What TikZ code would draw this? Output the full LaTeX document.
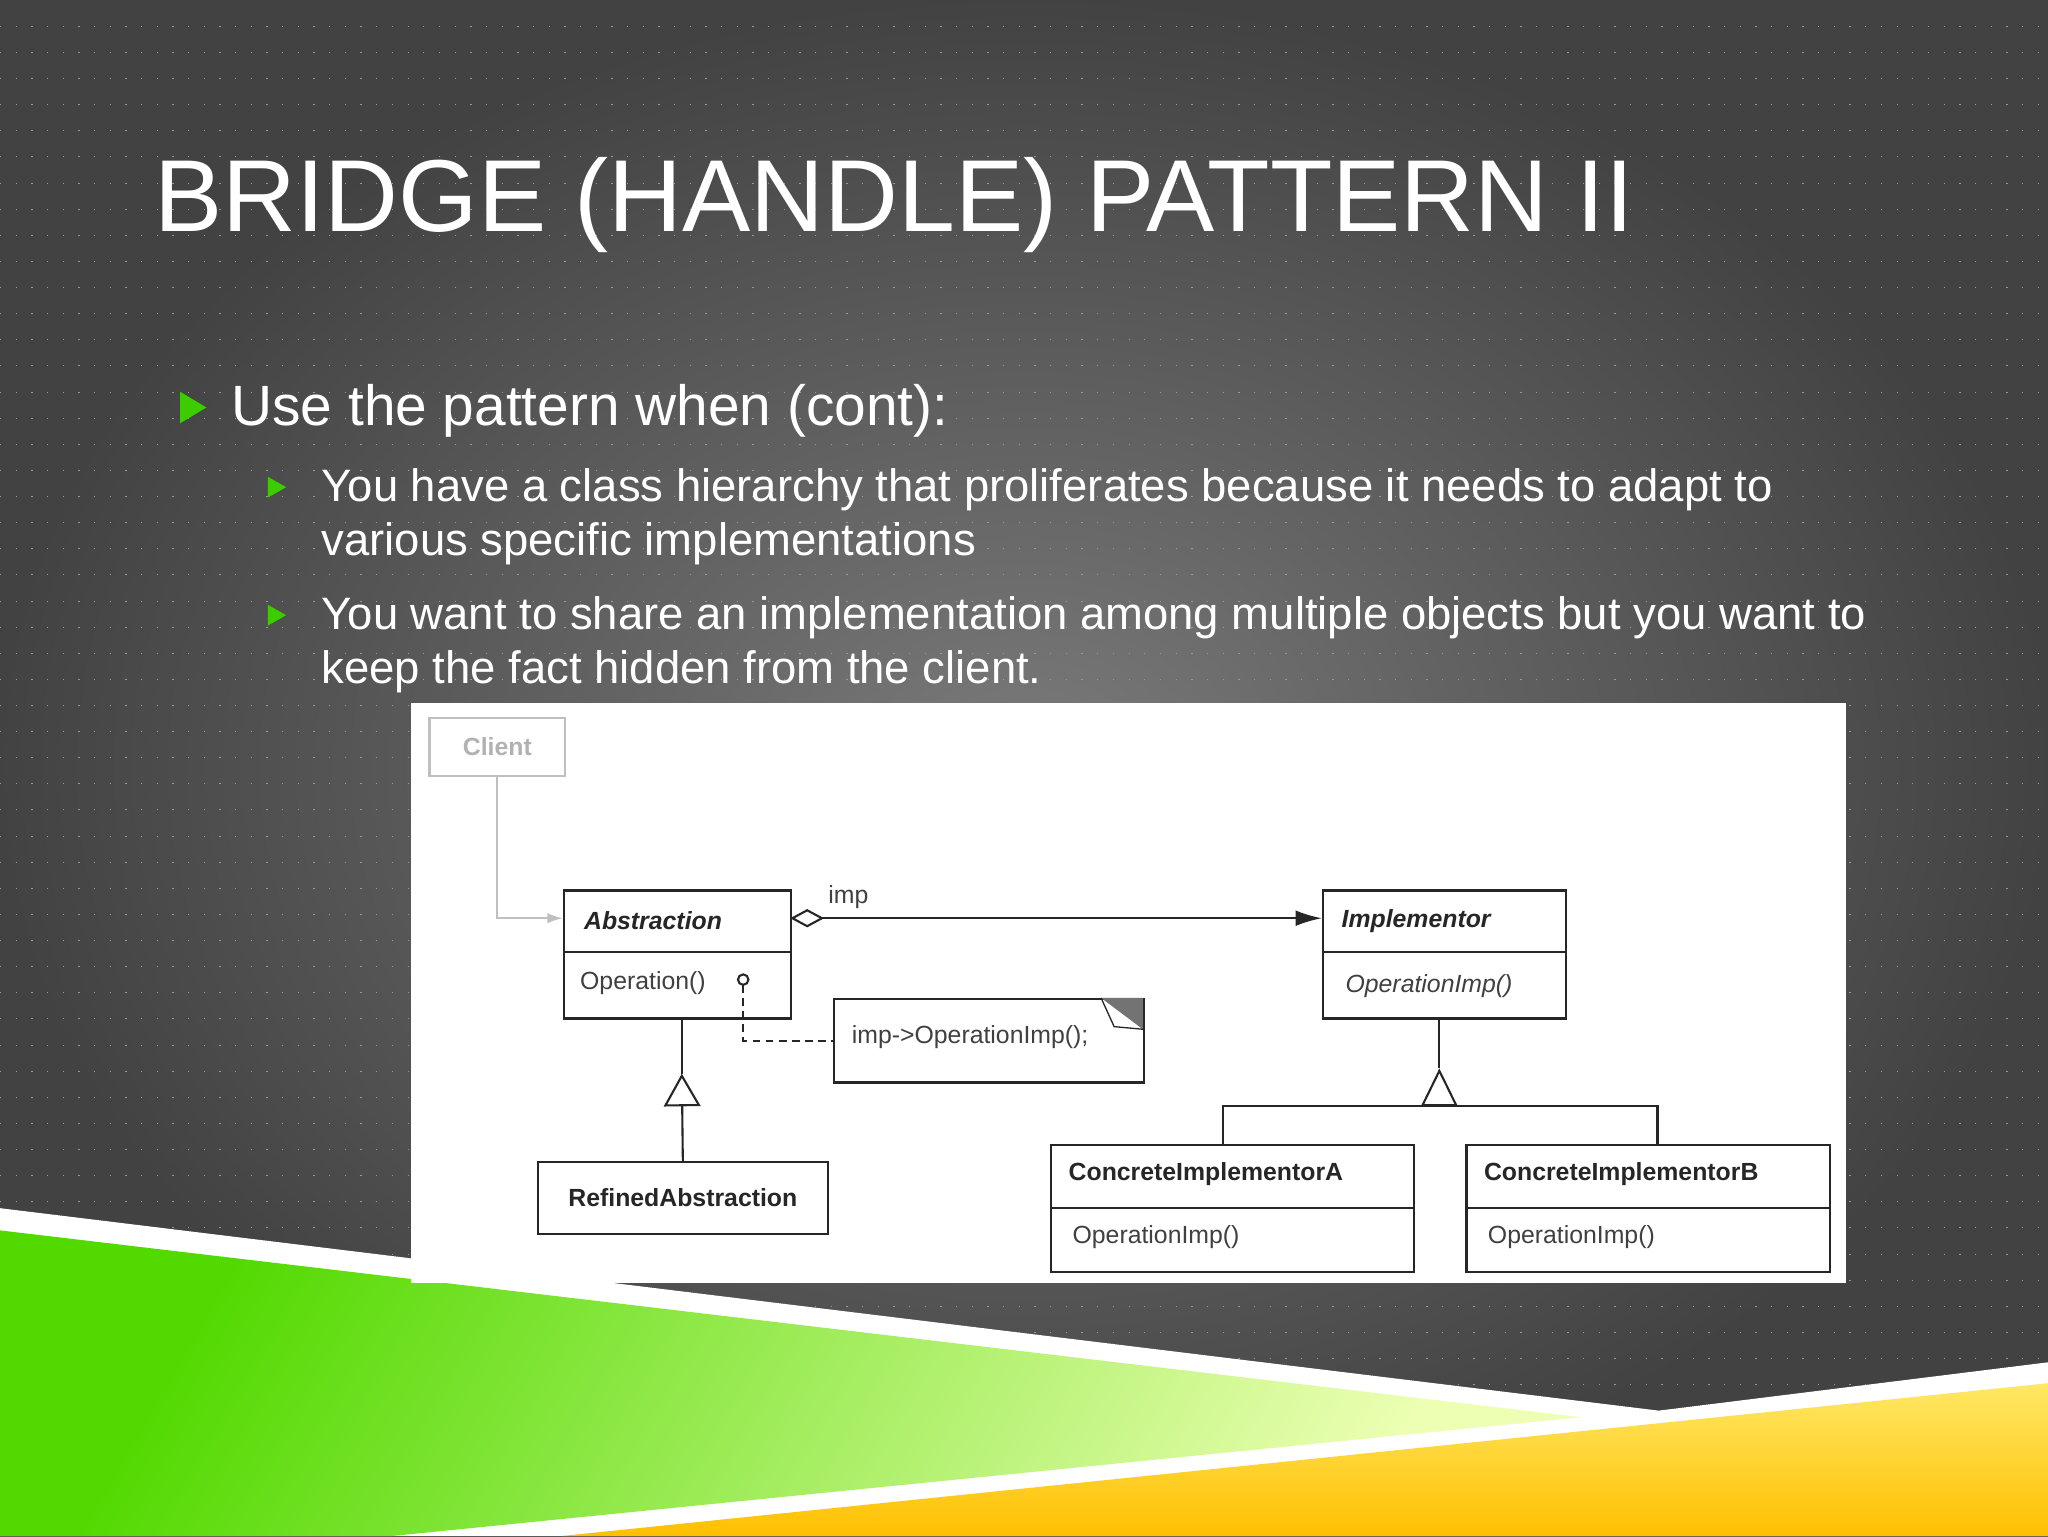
\documentclass[tikz,border=0pt]{standalone}
\usepackage{fontspec}
\setmainfont{Liberation Sans}
\usetikzlibrary{arrows.meta,shapes.geometric}
\begin{document}
\begin{tikzpicture}[x=1pt,y=-1pt,
  cls/.style={draw=black!85,line width=1.6pt,fill=white,inner sep=0pt,anchor=north west},
  ctext/.style={font=\fontsize{19}{22}\selectfont\bfseries,text=black!85,inner sep=0pt},
  mtext/.style={font=\fontsize{19}{22}\selectfont,text=black!75,inner sep=0pt},
  ln/.style={draw=black!85,line width=1.6pt},
  sub/.style={anchor=base west,text=white,inner sep=0pt,font=\fontsize{34.8}{41}\selectfont},
]
\useasboundingbox (0,0) rectangle (1568,1176);
% background
\shade[inner color=black!52,outer color=black!74] (0,0) rectangle (1568,1176);
\foreach \yy in {20,40,...,1160} {\draw[black!40,line width=0.5pt,dash pattern=on 1pt off 11pt] (0,\yy) -- (1568,\yy);}
% bottom shapes
\fill[white] (0,925) -- (1270,1080) -- (1568,1043) -- (1568,1176) -- (0,1176) -- cycle;
\shade[left color=green!50!lime!85!black,right color=lime!30!white,shading angle=60] (0,942) -- (1210,1085) -- (300,1176) -- (0,1176) -- cycle;
\shade[top color=yellow!70!orange!60!white,bottom color=orange!50!yellow] (1568,1059) -- (430,1176) -- (1568,1176) -- cycle;
% title and text
\node[anchor=base west,text=white,inner sep=0pt,font=\fontsize{78.3}{94}\selectfont] (title) at (118,177) {BRIDGE (HANDLE) PATTERN II};
\fill[green!60!lime!80!black] (138,300) -- (158,312) -- (138,324) -- cycle;
\node[anchor=base west,text=white,inner sep=0pt,font=\fontsize{43.5}{52}\selectfont] (b1) at (177,326) {Use the pattern when (cont):};
\fill[green!60!lime!80!black] (205,365) -- (219,373) -- (205,381) -- cycle;
\fill[green!60!lime!80!black] (205,463) -- (219,471) -- (205,479) -- cycle;
\node[sub] (b2a) at (246,384) {You have a class hierarchy that proliferates because it needs to adapt to};
\node[sub] (b2b) at (246,425) {various specific implementations};
\node[sub] (b3a) at (246,482) {You want to share an implementation among multiple objects but you want to};
\node[sub] (b3b) at (246,523) {keep the fact hidden from the client.};
% diagram panel
\fill[white] (315,538) rectangle (1413,982);
% Client
\node[draw=black!25,line width=1.6pt,minimum width=104pt,minimum height=44pt,anchor=north west] (client) at (328,549) {};
\node[ctext,text=black!30] (clientt) at (client.center) {Client};
% Abstraction
\node[cls,minimum width=174pt,minimum height=98pt] (abs) at (431,681) {};
\draw[ln] (431,729) -- (605,729);
\node[ctext,anchor=west,font=\fontsize{19}{22}\selectfont\bfseries\itshape] (abst) at (447,705) {Abstraction};
\node[mtext,anchor=west] (abso) at (444,753) {Operation()};
% Implementor
\node[cls,minimum width=186pt,minimum height=98pt] (imp) at (1012,681) {};
\draw[ln] (1012,729) -- (1198,729);
\node[ctext,anchor=west,font=\fontsize{19}{22}\selectfont\bfseries\itshape] (impt) at (1027,705) {Implementor};
\node[mtext,anchor=west,font=\fontsize{19}{22}\selectfont\itshape] (impo) at (1030,755) {OperationImp()};
% Note
\node[draw=black!85,line width=1.6pt,fill=white,minimum width=237pt,minimum height=64pt,anchor=north west] (note) at (638,764) {};
\fill[black!55] (843,764) -- (875,764) -- (875,788) -- cycle;
\draw[black!85,line width=1pt] (843,764) -- (853,786) -- (875,788);
\node[mtext,anchor=west] (notet) at (652,794) {imp->OperationImp();};
% Refined
\node[cls,minimum width=222pt,minimum height=55pt] (ref) at (411,889) {};
\node[ctext] (reft) at (ref.center) {RefinedAbstraction};
% Concrete A
\node[cls,minimum width=278pt,minimum height=97pt] (ca) at (804,876) {};
\draw[ln] (804,925) -- (1082,925);
\node[ctext,anchor=west] (cat) at (818,899) {ConcreteImplementorA};
\node[mtext,anchor=west] (cao) at (821,947) {OperationImp()};
% Concrete B
\node[cls,minimum width=278pt,minimum height=97pt] (cb) at (1122,876) {};
\draw[ln] (1122,925) -- (1400,925);
\node[ctext,anchor=west] (cbt) at (1136,899) {ConcreteImplementorB};
\node[mtext,anchor=west] (cbo) at (1139,947) {OperationImp()};
% connectors
\draw[black!25,line width=1.6pt,-{Latex[length=12pt,width=8pt]}] (client.south) |- (abs.north west |- 0,703);
\draw[ln,{Diamond[open,length=26pt,width=14pt,fill=white]}-{Latex[length=20pt,width=12pt]}] (605,703) -- (imp.west |- 0,703);
\node[mtext,anchor=base west] (impl) at (634,692) {imp};
\draw[black!85,line width=1.6pt] (569,750) circle (4pt);
\draw[ln,dashed,dash pattern=on 6pt off 4pt] (569,754) |- (note.west);
\coordinate (tri1) at (522,822);
\coordinate (tri2) at (1102,818);
\draw[ln] (abs.south -| tri1) -- (tri1);
\draw[ln,-{Triangle[open,length=25pt,width=28pt,fill=white]}] (ref.north) -- (tri1);
\coordinate (bar) at (1102,847);
\draw[ln] (ca.north -| 936,0) |- (1269,847) -- (cb.north -| 1269,0);
\draw[ln] (imp.south -| tri2) -- (tri2);
\draw[ln,-{Triangle[open,length=29pt,width=28pt,fill=white]}] (bar) -- (tri2);
\end{tikzpicture}
\end{document}
